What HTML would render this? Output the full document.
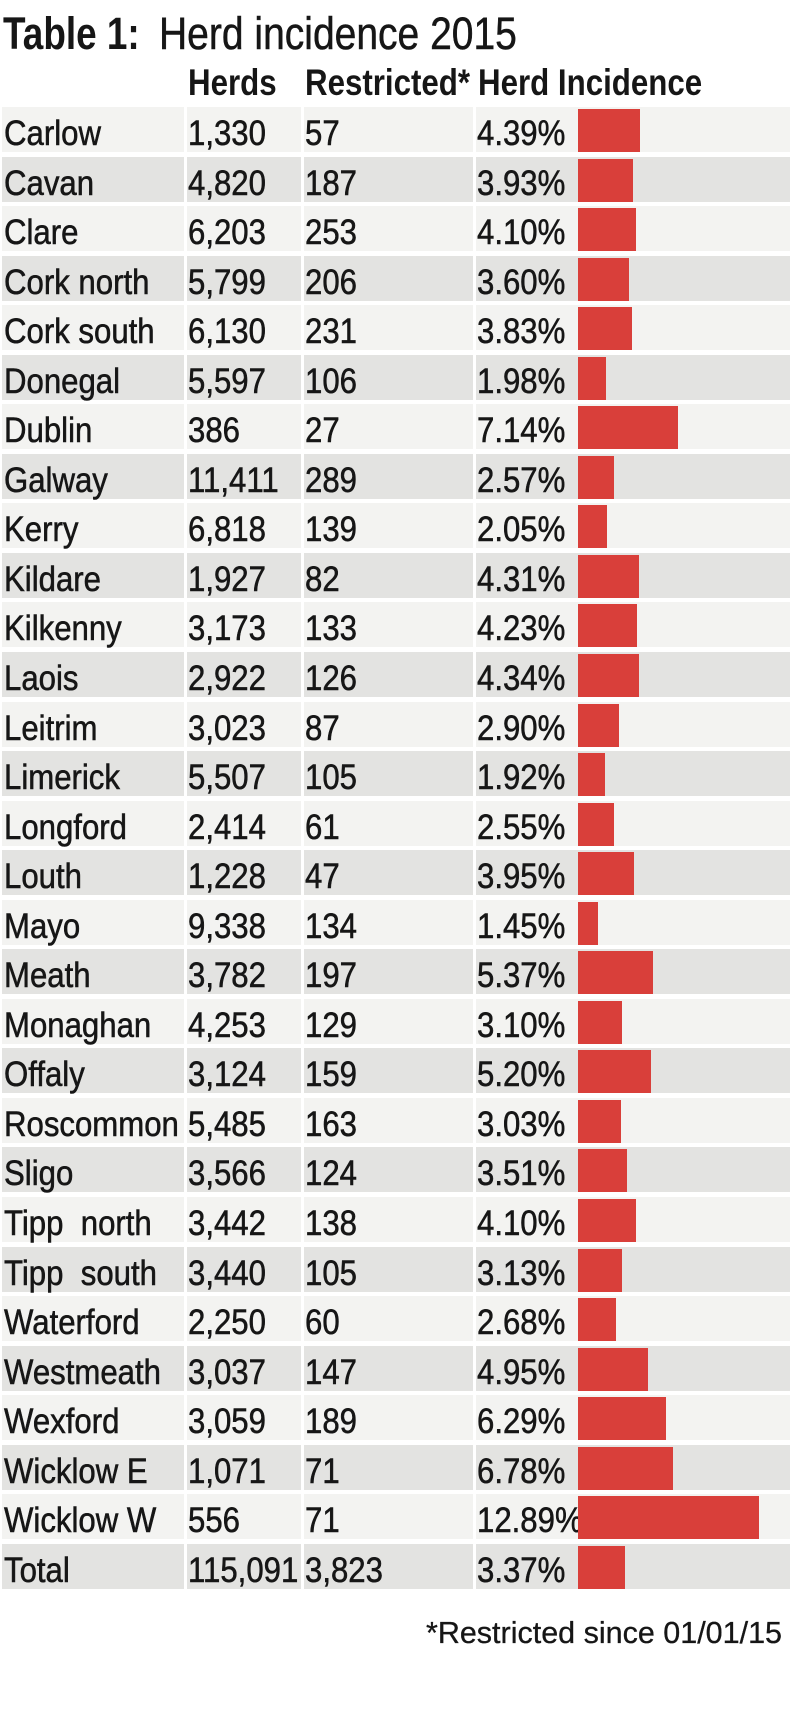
<!DOCTYPE html>
<html>
<head>
<meta charset="utf-8">
<style>
  html, body { margin:0; padding:0; background:#ffffff; }
  body { width:790px; height:1714px; position:relative; overflow:hidden; font-family:"Liberation Sans", Arial, sans-serif; color:#161616; }
  .abs { position:absolute; white-space:nowrap; transform-origin:0 0; }
  .title-b { left:3px; top:11px; font-size:45px; line-height:45px; font-weight:bold; transform:scaleX(0.82); }
  .title-r { left:159px; top:11px; font-size:45px; line-height:45px; transform:scaleX(0.867); -webkit-text-stroke:0.5px #161616; }
  .hdr { top:64px; font-size:37px; line-height:37px; font-weight:bold; transform:scaleX(0.845); }
  .rows { position:absolute; left:0; top:107px; width:790px; }
  .row { position:relative; height:45px; margin-bottom:4.55px; }
  .b { position:absolute; top:0; height:45px; }
  .c0 { left:2px; width:182px; }
  .c1 { left:187px; width:114px; }
  .c2 { left:304px; width:169px; }
  .c3 { left:476px; width:314px; }
  .L .b { background:#f3f3f1; }
  .D .b { background:#e3e3e1; }
  .t { position:absolute; top:9px; font-size:35px; line-height:35px; white-space:nowrap; transform:scaleX(0.89); transform-origin:0 0; -webkit-text-stroke:0.55px #161616; }
  .n { left:4px; }
  .h { left:188px; }
  .r { left:305px; }
  .p { left:477px; }
  .bar { position:absolute; left:578px; top:2px; height:43px; background:#d93f3a; }
  .foot { position:absolute; right:8px; top:1618px; font-size:30.5px; line-height:30.5px; white-space:nowrap; -webkit-text-stroke:0.3px #161616; }
</style>
</head>
<body>
<div class="abs title-b">Table 1:</div>
<div class="abs title-r">Herd incidence 2015</div>
<div class="abs hdr" style="left:188px">Herds</div>
<div class="abs hdr" style="left:305px">Restricted*</div>
<div class="abs hdr" style="left:478px">Herd Incidence</div>

<div class="rows">
  <div class="row L"><div class="b c0"></div><div class="b c1"></div><div class="b c2"></div><div class="b c3"></div><span class="t n">Carlow</span><span class="t h">1,330</span><span class="t r">57</span><span class="t p">4.39%</span><div class="bar" style="width:61.6px"></div></div>
  <div class="row D"><div class="b c0"></div><div class="b c1"></div><div class="b c2"></div><div class="b c3"></div><span class="t n">Cavan</span><span class="t h">4,820</span><span class="t r">187</span><span class="t p">3.93%</span><div class="bar" style="width:55.2px"></div></div>
  <div class="row L"><div class="b c0"></div><div class="b c1"></div><div class="b c2"></div><div class="b c3"></div><span class="t n">Clare</span><span class="t h">6,203</span><span class="t r">253</span><span class="t p">4.10%</span><div class="bar" style="width:57.6px"></div></div>
  <div class="row D"><div class="b c0"></div><div class="b c1"></div><div class="b c2"></div><div class="b c3"></div><span class="t n">Cork north</span><span class="t h">5,799</span><span class="t r">206</span><span class="t p">3.60%</span><div class="bar" style="width:50.5px"></div></div>
  <div class="row L"><div class="b c0"></div><div class="b c1"></div><div class="b c2"></div><div class="b c3"></div><span class="t n">Cork south</span><span class="t h">6,130</span><span class="t r">231</span><span class="t p">3.83%</span><div class="bar" style="width:53.8px"></div></div>
  <div class="row D"><div class="b c0"></div><div class="b c1"></div><div class="b c2"></div><div class="b c3"></div><span class="t n">Donegal</span><span class="t h">5,597</span><span class="t r">106</span><span class="t p">1.98%</span><div class="bar" style="width:27.8px"></div></div>
  <div class="row L"><div class="b c0"></div><div class="b c1"></div><div class="b c2"></div><div class="b c3"></div><span class="t n">Dublin</span><span class="t h">386</span><span class="t r">27</span><span class="t p">7.14%</span><div class="bar" style="width:100.2px"></div></div>
  <div class="row D"><div class="b c0"></div><div class="b c1"></div><div class="b c2"></div><div class="b c3"></div><span class="t n">Galway</span><span class="t h">11,411</span><span class="t r">289</span><span class="t p">2.57%</span><div class="bar" style="width:36.1px"></div></div>
  <div class="row L"><div class="b c0"></div><div class="b c1"></div><div class="b c2"></div><div class="b c3"></div><span class="t n">Kerry</span><span class="t h">6,818</span><span class="t r">139</span><span class="t p">2.05%</span><div class="bar" style="width:28.8px"></div></div>
  <div class="row D"><div class="b c0"></div><div class="b c1"></div><div class="b c2"></div><div class="b c3"></div><span class="t n">Kildare</span><span class="t h">1,927</span><span class="t r">82</span><span class="t p">4.31%</span><div class="bar" style="width:60.5px"></div></div>
  <div class="row L"><div class="b c0"></div><div class="b c1"></div><div class="b c2"></div><div class="b c3"></div><span class="t n">Kilkenny</span><span class="t h">3,173</span><span class="t r">133</span><span class="t p">4.23%</span><div class="bar" style="width:59.4px"></div></div>
  <div class="row D"><div class="b c0"></div><div class="b c1"></div><div class="b c2"></div><div class="b c3"></div><span class="t n">Laois</span><span class="t h">2,922</span><span class="t r">126</span><span class="t p">4.34%</span><div class="bar" style="width:60.9px"></div></div>
  <div class="row L"><div class="b c0"></div><div class="b c1"></div><div class="b c2"></div><div class="b c3"></div><span class="t n">Leitrim</span><span class="t h">3,023</span><span class="t r">87</span><span class="t p">2.90%</span><div class="bar" style="width:40.7px"></div></div>
  <div class="row D"><div class="b c0"></div><div class="b c1"></div><div class="b c2"></div><div class="b c3"></div><span class="t n">Limerick</span><span class="t h">5,507</span><span class="t r">105</span><span class="t p">1.92%</span><div class="bar" style="width:27px"></div></div>
  <div class="row L"><div class="b c0"></div><div class="b c1"></div><div class="b c2"></div><div class="b c3"></div><span class="t n">Longford</span><span class="t h">2,414</span><span class="t r">61</span><span class="t p">2.55%</span><div class="bar" style="width:35.8px"></div></div>
  <div class="row D"><div class="b c0"></div><div class="b c1"></div><div class="b c2"></div><div class="b c3"></div><span class="t n">Louth</span><span class="t h">1,228</span><span class="t r">47</span><span class="t p">3.95%</span><div class="bar" style="width:55.5px"></div></div>
  <div class="row L"><div class="b c0"></div><div class="b c1"></div><div class="b c2"></div><div class="b c3"></div><span class="t n">Mayo</span><span class="t h">9,338</span><span class="t r">134</span><span class="t p">1.45%</span><div class="bar" style="width:20.4px"></div></div>
  <div class="row D"><div class="b c0"></div><div class="b c1"></div><div class="b c2"></div><div class="b c3"></div><span class="t n">Meath</span><span class="t h">3,782</span><span class="t r">197</span><span class="t p">5.37%</span><div class="bar" style="width:75.4px"></div></div>
  <div class="row L"><div class="b c0"></div><div class="b c1"></div><div class="b c2"></div><div class="b c3"></div><span class="t n">Monaghan</span><span class="t h">4,253</span><span class="t r">129</span><span class="t p">3.10%</span><div class="bar" style="width:43.5px"></div></div>
  <div class="row D"><div class="b c0"></div><div class="b c1"></div><div class="b c2"></div><div class="b c3"></div><span class="t n">Offaly</span><span class="t h">3,124</span><span class="t r">159</span><span class="t p">5.20%</span><div class="bar" style="width:73px"></div></div>
  <div class="row L"><div class="b c0"></div><div class="b c1"></div><div class="b c2"></div><div class="b c3"></div><span class="t n">Roscommon</span><span class="t h">5,485</span><span class="t r">163</span><span class="t p">3.03%</span><div class="bar" style="width:42.5px"></div></div>
  <div class="row D"><div class="b c0"></div><div class="b c1"></div><div class="b c2"></div><div class="b c3"></div><span class="t n">Sligo</span><span class="t h">3,566</span><span class="t r">124</span><span class="t p">3.51%</span><div class="bar" style="width:49.3px"></div></div>
  <div class="row L"><div class="b c0"></div><div class="b c1"></div><div class="b c2"></div><div class="b c3"></div><span class="t n">Tipp&nbsp; north</span><span class="t h">3,442</span><span class="t r">138</span><span class="t p">4.10%</span><div class="bar" style="width:57.6px"></div></div>
  <div class="row D"><div class="b c0"></div><div class="b c1"></div><div class="b c2"></div><div class="b c3"></div><span class="t n">Tipp&nbsp; south</span><span class="t h">3,440</span><span class="t r">105</span><span class="t p">3.13%</span><div class="bar" style="width:43.9px"></div></div>
  <div class="row L"><div class="b c0"></div><div class="b c1"></div><div class="b c2"></div><div class="b c3"></div><span class="t n">Waterford</span><span class="t h">2,250</span><span class="t r">60</span><span class="t p">2.68%</span><div class="bar" style="width:37.6px"></div></div>
  <div class="row D"><div class="b c0"></div><div class="b c1"></div><div class="b c2"></div><div class="b c3"></div><span class="t n">Westmeath</span><span class="t h">3,037</span><span class="t r">147</span><span class="t p">4.95%</span><div class="bar" style="width:69.5px"></div></div>
  <div class="row L"><div class="b c0"></div><div class="b c1"></div><div class="b c2"></div><div class="b c3"></div><span class="t n">Wexford</span><span class="t h">3,059</span><span class="t r">189</span><span class="t p">6.29%</span><div class="bar" style="width:88.3px"></div></div>
  <div class="row D"><div class="b c0"></div><div class="b c1"></div><div class="b c2"></div><div class="b c3"></div><span class="t n">Wicklow E</span><span class="t h">1,071</span><span class="t r">71</span><span class="t p">6.78%</span><div class="bar" style="width:95.2px"></div></div>
  <div class="row L"><div class="b c0"></div><div class="b c1"></div><div class="b c2"></div><div class="b c3"></div><span class="t n">Wicklow W</span><span class="t h">556</span><span class="t r">71</span><span class="t p">12.89%</span><div class="bar" style="width:181px"></div></div>
  <div class="row D"><div class="b c0"></div><div class="b c1"></div><div class="b c2"></div><div class="b c3"></div><span class="t n">Total</span><span class="t h">115,091</span><span class="t r">3,823</span><span class="t p">3.37%</span><div class="bar" style="width:47.3px"></div></div>
</div>

<div class="foot">*Restricted since 01/01/15</div>
</body>
</html>
